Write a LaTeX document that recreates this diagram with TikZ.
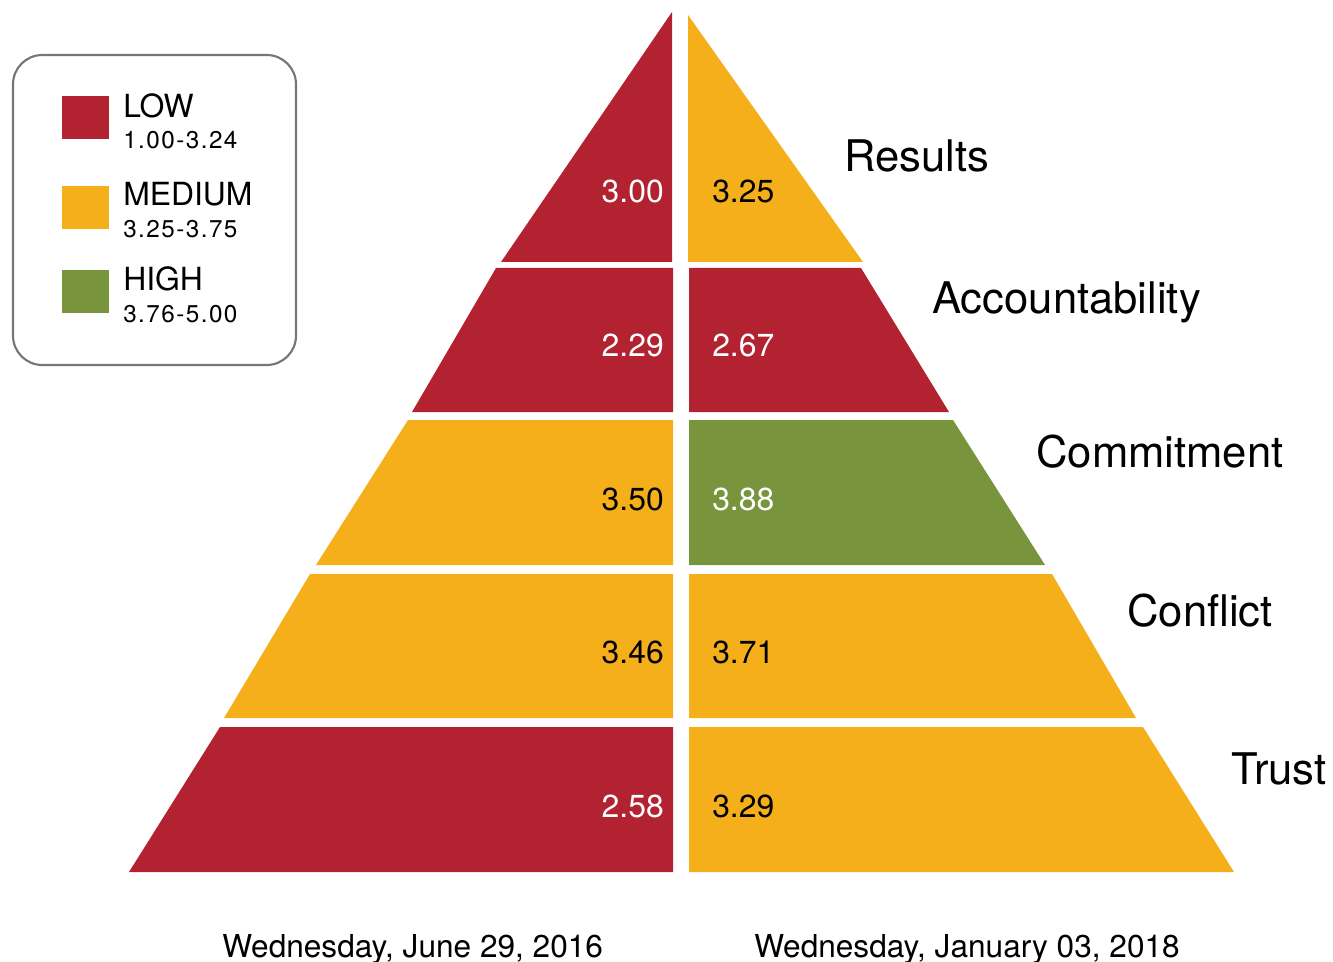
\documentclass[tikz,border=0pt]{standalone}
\usepackage{fontspec}
\setmainfont{TeX Gyre Heros}
\definecolor{lowc}{RGB}{179,34,48}
\definecolor{medc}{RGB}{244,175,27}
\definecolor{highc}{RGB}{120,148,60}
\definecolor{boxc}{RGB}{118,118,118}
\begin{document}
\begin{tikzpicture}[x=0.75pt,y=-0.75pt,
  num/.style={font=\fontsize{23.9pt}{28pt}\selectfont,inner sep=0pt},
  lnum/.style={num,anchor=base east},
  rnum/.style={num,anchor=base west},
  lvl/.style={font=\fontsize{32.7pt}{38pt}\selectfont,inner sep=0pt,anchor=base west},
  legbig/.style={font=\fontsize{23.9pt}{28pt}\selectfont,inner sep=0pt,anchor=base west},
  legsmall/.style={font=\fontsize{18.2pt}{21pt}\selectfont\addfontfeature{LetterSpace=6},inner sep=0pt,anchor=base west},
  datel/.style={font=\fontsize{23.7pt}{28pt}\selectfont,inner sep=0pt,anchor=base west}]
\useasboundingbox (0,0) rectangle (1333,962);
% left half
\fill[lowc] (672,12) -- (501,262) -- (672,262) -- cycle;
\fill[lowc] (496,268) -- (412,412) -- (673,412) -- (673,268) -- cycle;
\fill[medc] (408,420) -- (316,565) -- (673,565) -- (673,420) -- cycle;
\fill[medc] (310,574) -- (224,718) -- (673,718) -- (673,574) -- cycle;
\fill[lowc] (220,727) -- (129,872) -- (673,872) -- (673,727) -- cycle;
% right half
\fill[medc] (688,15) -- (863,262) -- (688,262) -- cycle;
\fill[lowc] (689,268) -- (861,268) -- (949,412) -- (689,412) -- cycle;
\fill[highc] (689,420) -- (953,420) -- (1045,565) -- (689,565) -- cycle;
\fill[medc] (689,574) -- (1052,574) -- (1136,718) -- (689,718) -- cycle;
\fill[medc] (689,727) -- (1143,727) -- (1234,872) -- (689,872) -- cycle;
% values
\node[lnum,text=white] (l1) at (664,202.4) {3.00};
\node[lnum,text=white] (l2) at (664,356.4) {2.29};
\node[lnum,text=black] (l3) at (664,510.4) {3.50};
\node[lnum,text=black] (l4) at (664,663.4) {3.46};
\node[lnum,text=white] (l5) at (664,817.4) {2.58};
\node[rnum,text=black] (r1) at (712,202.4) {3.25};
\node[rnum,text=white] (r2) at (712,356.4) {2.67};
\node[rnum,text=white] (r3) at (712,510.4) {3.88};
\node[rnum,text=black] (r4) at (712,663.4) {3.71};
\node[rnum,text=black] (r5) at (712,817.4) {3.29};
% level labels
\node[lvl] (t1) at (844,171.6) {Results};
\node[lvl] (t2) at (932,313.6) {Accountability};
\node[lvl] (t3) at (1036,467.6) {Commitment};
\node[lvl] (t4) at (1127,626.6) {Conflict};
\node[lvl] (t5) at (1231,784.6) {Trust};
% dates
\node[datel] (d1) at (222,957) {Wednesday, June 29, 2016};
\node[datel] (d2) at (754,957) {Wednesday, January 03, 2018};
% legend
\draw[boxc,line width=1.6pt,rounded corners=22pt] (13,55) rectangle (296,365);
\fill[lowc] (62,96) rectangle (109,139);
\fill[medc] (62,186) rectangle (109,229);
\fill[highc] (62,270) rectangle (109,313);
\node[legbig] (k1) at (123,117.3) {LOW};
\node[legsmall] (k1s) at (123,149) {1.00-3.24};
\node[legbig] (k2) at (123,205.7) {MEDIUM};
\node[legsmall] (k2s) at (123,237.7) {3.25-3.75};
\node[legbig] (k3) at (123,290.7) {HIGH};
\node[legsmall] (k3s) at (123,322.7) {3.76-5.00};
\end{tikzpicture}
\end{document}
